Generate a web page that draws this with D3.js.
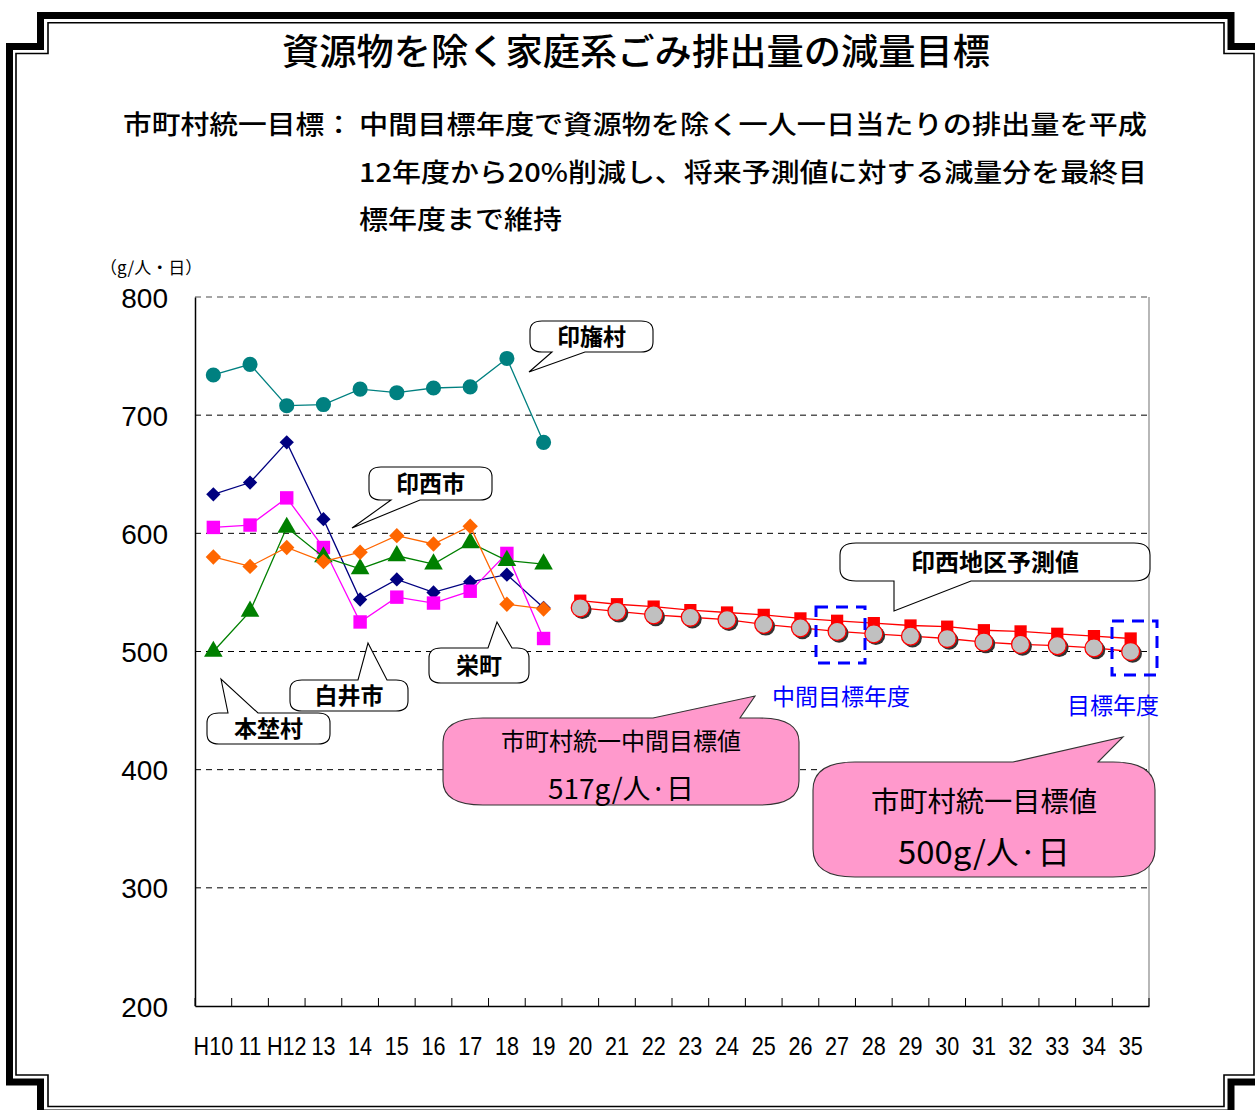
<!DOCTYPE html>
<html><head><meta charset="utf-8">
<script src="https://cdn.jsdelivr.net/npm/d3@7"></script>
<style>body{margin:0;background:#fff}svg{display:block}</style>
</head><body>
<svg id="c" width="1255" height="1110"></svg>
<script>
const years = ["H10","11","H12","13","14","15","16","17","18","19","20","21","22","23","24","25","26","27","28","29","30","31","32","33","34","35"];
const pastYears = years.slice(0,10);
const futureYears = years.slice(10);
const yTicks = [200,300,400,500,600,700,800];
const inbaVillage = [734,743,708,709,722,719,723,724,748,677];
const inzaiCity   = [633,643,677,612,544,561,550,559,565,537];
const shiroiCity  = [605,607,630,588,525,546,541,551,583,511];
const sakaeTown   = [580,572,588,576,584,598,591,606,540,536];
const motonoVillage = [500,534,605,580,570,581,574,592,577,574];
const forecast = [543,540,538,535,533,531,528,526,524,522,521,518,517,515,513,511];
const target   = [537,534,531,529,527,523,520,517,515,513,511,508,506,505,503,500];

const svg = d3.select("#c");
const JP = "'Noto Sans CJK JP','Noto Sans CJK SC',sans-serif";
const x = d3.scaleBand().domain(years).range([195,1149]).padding(0);
const y = d3.scaleLinear().domain([200,800]).range([1006,297]);
const cx = d => x(d) + x.bandwidth()/2;

// frame
function framePath(L,T,R,B,nl,nr,nt,nb){
  return `M${nl},${T}H${nr}V${nt}H${R}V${nb}H${nr}V${B}H${nl}V${nb}H${L}V${nt}H${nl}Z`;
}
svg.append("path").attr("d",framePath(9.5,15.5,1262,1113,40.5,1231,46.5,1082))
  .attr("fill","none").attr("stroke","#000").attr("stroke-width",7);
svg.append("path").attr("d",framePath(16,22.7,1254,1106.5,48,1224,53.5,1075))
  .attr("fill","none").attr("stroke","#000").attr("stroke-width",1.6);

// title & description
svg.append("text").attr("x",636).attr("y",65).attr("text-anchor","middle")
  .attr("font-family",JP).attr("font-size",36).attr("font-weight",500)
  .attr("textLength",708).attr("lengthAdjust","spacingAndGlyphs")
  .text("資源物を除く家庭系ごみ排出量の減量目標");
const desc = [
  {t:"市町村統一目標：", x:123, y:134, w:230},
  {t:"中間目標年度で資源物を除く一人一日当たりの排出量を平成", x:359, y:134, w:788},
  {t:"12年度から20%削減し、将来予測値に対する減量分を最終目", x:359, y:182, w:788},
  {t:"標年度まで維持", x:359, y:229, w:203}
];
svg.selectAll("text.desc").data(desc).join("text").attr("class","desc")
  .attr("x",d=>d.x).attr("y",d=>d.y).attr("font-family",JP).attr("font-size",26)
  .attr("font-weight",500).attr("textLength",d=>d.w).attr("lengthAdjust","spacingAndGlyphs")
  .text(d=>d.t);
svg.append("text").attr("x",100).attr("y",274).attr("font-family",JP).attr("font-size",17)
  .text("（g/人・日）");

// grid
const grid = svg.append("g");
grid.selectAll("line").data(yTicks.filter(v=>v>200)).join("line")
  .attr("x1",195).attr("x2",1149).attr("y1",d=>y(d)).attr("y2",d=>y(d))
  .attr("stroke",d=>d===800?"#888":"#000").attr("stroke-width",d=>d===800?1.6:1)
  .attr("stroke-dasharray","6,5");
svg.append("line").attr("x1",1149).attr("x2",1149).attr("y1",297).attr("y2",1006)
  .attr("stroke","#888").attr("stroke-width",1.2);

// y axis
const ya = svg.append("g").attr("transform","translate(195,0)")
  .call(d3.axisLeft(y).tickValues(yTicks).tickSize(0).tickPadding(27).tickSizeOuter(0));
ya.select(".domain").attr("stroke","#000").attr("stroke-width",1.5);
ya.selectAll("text").attr("font-family","'Liberation Sans',Arial,sans-serif").attr("font-size",28).attr("fill","#000").attr("dy","0.36em");

// x axis
const xa = svg.append("g").attr("transform","translate(0,1006)")
  .call(d3.axisBottom(x).tickSize(0).tickPadding(0).tickSizeOuter(0));
xa.select(".domain").attr("stroke","#000").attr("stroke-width",1.5);
xa.selectAll("text").attr("font-family","'Liberation Sans',Arial,sans-serif").attr("font-size",26)
  .attr("fill","#000").attr("y",49).attr("dy",0).attr("transform","scale(0.83,1)");
const bounds = years.map(d=>x(d)).concat([x(years[years.length-1])+x.bandwidth()]);
svg.append("g").selectAll("line").data(bounds).join("line")
  .attr("x1",d=>d).attr("x2",d=>d).attr("y1",998).attr("y2",1006)
  .attr("stroke","#000").attr("stroke-width",1);

// series
function lineSeries(cats, vals, color){
  svg.append("path").datum(vals.map((v,i)=>[cx(cats[i]),y(v)]))
    .attr("d",d3.line()).attr("fill","none").attr("stroke",color).attr("stroke-width",1.3);
}
function markers(cats, vals, type, size, color){
  svg.append("g").selectAll("path").data(vals).join("path")
    .attr("transform",(v,i)=>`translate(${cx(cats[i])},${y(v)})`)
    .attr("d",d3.symbol().type(type).size(size)).attr("fill",color);
}
lineSeries(pastYears, inzaiCity, "#000080");
markers(pastYears, inzaiCity, d3.symbolDiamond2, 130, "#000080");
lineSeries(pastYears, shiroiCity, "#FF00FF");
markers(pastYears, shiroiCity, d3.symbolSquare, 180, "#FF00FF");
lineSeries(pastYears, motonoVillage, "#008000");
markers(pastYears, motonoVillage, d3.symbolTriangle, 150, "#008000");
lineSeries(pastYears, sakaeTown, "#FF6600");
markers(pastYears, sakaeTown, d3.symbolDiamond2, 150, "#FF6600");
lineSeries(pastYears, inbaVillage, "#008080");
markers(pastYears, inbaVillage, d3.symbolCircle, 180, "#008080");

lineSeries(futureYears, forecast, "#FF0000");
markers(futureYears, forecast, d3.symbolSquare, 150, "#FF0000");
lineSeries(futureYears, target, "#FF0000");
const tg = svg.append("g");
tg.selectAll("circle.sh").data(target).join("circle").attr("class","sh")
  .attr("cx",(v,i)=>cx(futureYears[i])+2).attr("cy",v=>y(v)+2).attr("r",9.3).attr("fill","#333");
tg.selectAll("circle.pt").data(target).join("circle").attr("class","pt")
  .attr("cx",(v,i)=>cx(futureYears[i])).attr("cy",v=>y(v)).attr("r",9)
  .attr("fill","#C0C0C0").attr("stroke","#FF0000").attr("stroke-width",1.3);

// dashed target boxes
[[816,607,865,663],[1112,621,1157,675]].forEach(b=>{
  svg.append("rect").attr("x",b[0]).attr("y",b[1]).attr("width",b[2]-b[0]).attr("height",b[3]-b[1])
    .attr("fill","none").attr("stroke","#0000FF").attr("stroke-width",3).attr("stroke-dasharray","12,8");
});
svg.append("text").attr("x",841).attr("y",705).attr("text-anchor","middle").attr("font-family",JP)
  .attr("font-size",23).attr("fill","#0000FF").text("中間目標年度");
svg.append("text").attr("x",1113).attr("y",714).attr("text-anchor","middle").attr("font-family",JP)
  .attr("font-size",23).attr("fill","#0000FF").text("目標年度");

// bubbles
function bubble(b){
  const {x0,y0,x1,y1,rx,ry,side,a,bb,tx,ty} = b;
  let p = `M${x0+rx},${y0}`;
  if(side==="top") p += `H${a}L${tx},${ty}L${bb},${y0}`;
  p += `H${x1-rx}Q${x1},${y0} ${x1},${y0+ry}V${y1-ry}Q${x1},${y1} ${x1-rx},${y1}`;
  if(side==="bottom") p += `H${bb}L${tx},${ty}L${a},${y1}`;
  p += `H${x0+rx}Q${x0},${y1} ${x0},${y1-ry}V${y0+ry}Q${x0},${y0} ${x0+rx},${y0}Z`;
  return p;
}
const labels = [
  {t:"印旛村", x0:530,y0:321,x1:653,y1:352,rx:12,ry:10,side:"bottom",a:552,bb:585,tx:529,ty:372},
  {t:"印西市", x0:369,y0:467,x1:492,y1:500,rx:12,ry:10,side:"bottom",a:391,bb:420,tx:352,ty:528},
  {t:"印西地区予測値", x0:840,y0:543,x1:1150,y1:581,rx:16,ry:12,side:"bottom",a:894,bb:971,tx:894,ty:611},
  {t:"栄町", x0:429,y0:648,x1:529,y1:683,rx:12,ry:10,side:"top",a:488,bb:512,tx:497,ty:622},
  {t:"白井市", x0:290,y0:680,x1:408,y1:711,rx:12,ry:10,side:"top",a:358,bb:387,tx:368,ty:643},
  {t:"本埜村", x0:207,y0:713,x1:330,y1:744,rx:12,ry:10,side:"top",a:228,bb:258,tx:221,ty:679}
];
labels.forEach(b=>{
  svg.append("path").attr("d",bubble(b)).attr("fill","#fff").attr("stroke","#000").attr("stroke-width",1.1);
  svg.append("text").attr("x",(b.x0+b.x1)/2).attr("y",(b.y0+b.y1)/2+8.5).attr("text-anchor","middle")
    .attr("font-family",JP).attr("font-size",b.t.length>4?24:23).attr("font-weight",700).text(b.t);
});
const pinks = [
  {l1:"市町村統一中間目標値", l2:"517g/人·日", x0:443,y0:718,x1:799,y1:805,rx:40,ry:24,side:"top",a:653,bb:740,tx:755,ty:696,
   c:621, y1t:750, y2t:799, f1:24, f2:28, w1:240, w2:146},
  {l1:"市町村統一目標値", l2:"500g/人·日", x0:813,y0:762,x1:1155,y1:877,rx:42,ry:28,side:"top",a:1013,bb:1098,tx:1123,ty:737,
   c:984, y1t:812, y2t:864, f1:28, f2:32, w1:226, w2:172}
];
pinks.forEach(b=>{
  svg.append("path").attr("d",bubble(b)).attr("fill","#FF99CC").attr("stroke","#333").attr("stroke-width",1.1);
  svg.append("text").attr("x",b.c).attr("y",b.y1t).attr("text-anchor","middle").attr("font-family",JP)
    .attr("font-size",b.f1).attr("textLength",b.w1).attr("lengthAdjust","spacingAndGlyphs").text(b.l1);
  svg.append("text").attr("x",b.c).attr("y",b.y2t).attr("text-anchor","middle").attr("font-family",JP)
    .attr("font-size",b.f2).attr("textLength",b.w2).attr("lengthAdjust","spacingAndGlyphs").text(b.l2);
});
</script>
</body></html>
